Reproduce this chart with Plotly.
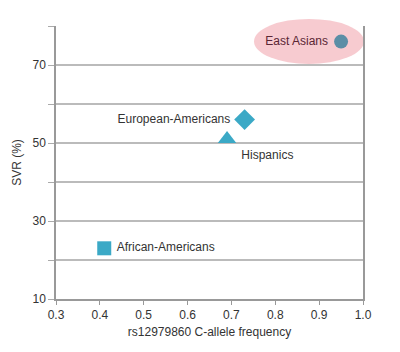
import plotly.graph_objects as go

groups = ["East Asians", "European-Americans", "Hispanics", "African-Americans"]
allele_freq = [0.95, 0.73, 0.69, 0.41]
svr = [76, 56, 51, 23]
symbols = ["circle", "diamond", "triangle-up", "square"]
colors = ["#5b8ea6", "#3ba9c6", "#3ba9c6", "#3ba9c6"]
sizes = [14, 16, 16, 14]
text_pos = ["middle left", "middle left", "bottom right", "middle right"]
text_colors = ["#5a2634", "#333333", "#333333", "#333333"]

y_ticks = [10, 20, 30, 40, 50, 60, 70, 80]
y_labels = ["10", "", "30", "", "50", "", "70", ""]
x_ticks = [0.3, 0.4, 0.5, 0.6, 0.7, 0.8, 0.9, 1.0]
x_labels = ["0.3", "0.4", "0.5", "0.6", "0.7", "0.8", "0.9", "1.0"]

fig = go.Figure()

# highlight ellipse behind East Asians
fig.add_shape(type="circle", xref="paper", yref="paper",
              x0=0.645, x1=1.003, y0=0.861, y1=1.026,
              fillcolor="rgba(240,160,170,0.55)", line=dict(width=0), layer="below")

for g, xv, yv, s, c, sz, tp, tc in zip(groups, allele_freq, svr, symbols, colors, sizes, text_pos, text_colors):
    fig.add_trace(go.Scatter(
        x=[xv], y=[yv], mode="markers+text", text=[" " + g + " "],
        textposition=tp, textfont=dict(size=12, color=tc, family="Liberation Sans, Arial"),
        marker=dict(symbol=s, size=sz, color=c, line=dict(width=0)),
        showlegend=False, cliponaxis=False))

fig.update_layout(
    width=400, height=352,
    margin=dict(l=56, r=37, t=26, b=53),
    paper_bgcolor="white", plot_bgcolor="white",
    font=dict(family="Liberation Sans, Arial", size=12, color="#333333"),
    xaxis=dict(range=[0.3, 1.0], tickvals=x_ticks, ticktext=x_labels,
               showgrid=False, zeroline=False, showline=True, linecolor="#999999", linewidth=1.5,
               ticks="outside", ticklen=4, tickcolor="#999999",
               title=dict(text="rs12979860 C-allele frequency", font=dict(size=12), standoff=6)),
    yaxis=dict(range=[10, 80], tickvals=y_ticks, ticktext=y_labels,
               showgrid=True, gridcolor="#bbbbbb", gridwidth=1.5, zeroline=False,
               showline=True, linecolor="#999999", linewidth=1.5, mirror=True,
               ticks="outside", ticklen=6, tickcolor="#aaaaaa",
               title=dict(text="SVR (%)", font=dict(size=12), standoff=8)),
)

fig.write_html("out.html")
